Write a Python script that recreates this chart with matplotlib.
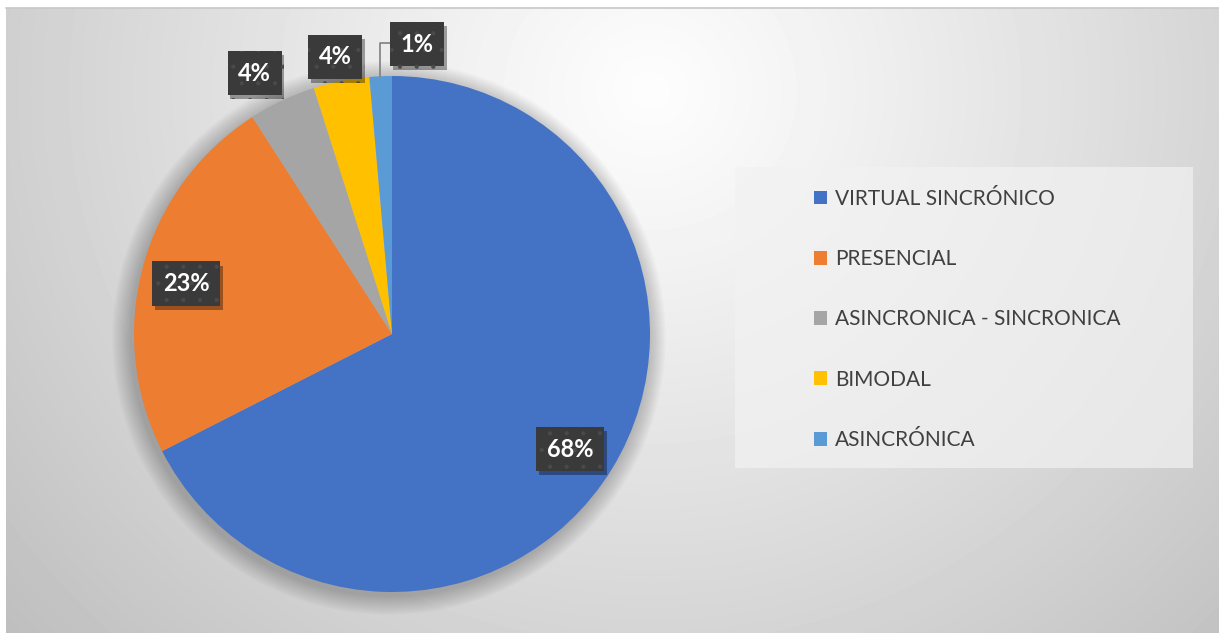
import numpy as np
import matplotlib.pyplot as plt
from matplotlib.patches import Rectangle, Circle
import matplotlib.patheffects as pe

categories = ['VIRTUAL SINCRÓNICO', 'PRESENCIAL', 'ASINCRONICA - SINCRONICA',
              'BIMODAL', 'ASINCRÓNICA']
values = [67.5, 23.4, 4.2, 3.5, 1.4]
labels = ['68%', '23%', '4%', '4%', '1%']
colors = ['#4472C4', '#ED7D31', '#A5A5A5', '#FFC000', '#5B9BD5']

W, H = 1219, 633
plt.rcParams['font.family'] = ['Lato', 'DejaVu Sans']
plt.rcParams['hatch.linewidth'] = 0.6

fig = plt.figure(figsize=(W / 100, H / 100), dpi=100)
fig.patch.set_facecolor('white')

# background gradient (pixel space, y measured from top)
bx0, by0 = 6, 8
xx, yy = np.meshgrid(np.arange(bx0, W), np.arange(by0, H))
d = np.hypot(xx - 650, (yy - 90) * 1.05)
bg = np.clip(253 - 58 * (d / 800) ** 1.1, 190, 253) / 255.0
bg_ax = fig.add_axes([bx0 / W, 0, 1 - bx0 / W, (H - by0) / H])
bg_ax.imshow(bg, cmap='gray', vmin=0, vmax=1, aspect='auto',
             interpolation='bilinear')
bg_ax.axis('off')
fig.add_artist(plt.Line2D([bx0 / W, 1], [(H - by0) / H] * 2, color='#c8c8c8',
                          lw=1.2))

ax = fig.add_axes([0, 0, 1, 1])
ax.patch.set_alpha(0)

cx, cy, R = 392, H - 334, 258

# soft shadow around the pie
for i in range(12):
    ax.add_patch(Circle((cx - 3, cy - 4), R + 1 + i * 1.6, color='black',
                        alpha=0.018, lw=0, zorder=0))

wedges, _ = ax.pie(values, colors=colors, startangle=90, counterclock=False,
                   center=(cx, cy), radius=R, wedgeprops=dict(linewidth=0))
ax.set_xlim(0, W)
ax.set_ylim(0, H)
ax.set_aspect('equal')
ax.axis('off')

label_r = [0.81, 0.81, 1.16, 1.12, 1.14]
label_shift = [(0, -6), (-4, -4), (-10, -10), (0, -6), (38, -4)]
box_style = dict(boxstyle='square,pad=0.45', facecolor='#3a3a3a',
                 edgecolor='#4a4a4a', linewidth=0, hatch='.')
for k, w in enumerate(wedges):
    ang = np.deg2rad((w.theta1 + w.theta2) / 2)
    tx = cx + label_r[k] * R * np.cos(ang) + label_shift[k][0]
    ty = cy + label_r[k] * R * np.sin(ang) + label_shift[k][1]
    t = ax.text(tx, ty, labels[k], ha='center', va='center', color='white',
                fontsize=17, fontweight='bold', bbox=box_style, zorder=5)
    t.get_bbox_patch().set_path_effects([
        pe.SimplePatchShadow(offset=(2, -3), shadow_rgbFace='black', alpha=0.35),
        pe.Normal()])

# leader line for the smallest slice
w = wedges[4]
ang = np.deg2rad((w.theta1 + w.theta2) / 2)
ex, ey = cx + R * np.cos(ang), cy + R * np.sin(ang)
ax.plot([ex - 1, ex - 1, 392], [ey, H - 43, H - 43], color='#7f7f7f', lw=1.2,
        zorder=4)

# legend
ax.add_patch(Rectangle((735, H - 468), 458, 301, facecolor='#f2f2f2',
                       edgecolor='none', alpha=0.7, zorder=1))
leg = ax.legend(wedges, categories, loc='upper left',
                bbox_to_anchor=(795 / W, (H - 170) / H), frameon=False,
                fontsize=15, handlelength=0.64, handleheight=0.64,
                handletextpad=0.4, labelspacing=1.935, borderpad=0.4)
for txt in leg.get_texts():
    txt.set_color('#404040')
for h in leg.legend_handles:
    h.set_linewidth(0)

fig.savefig('out.png', dpi=100)
